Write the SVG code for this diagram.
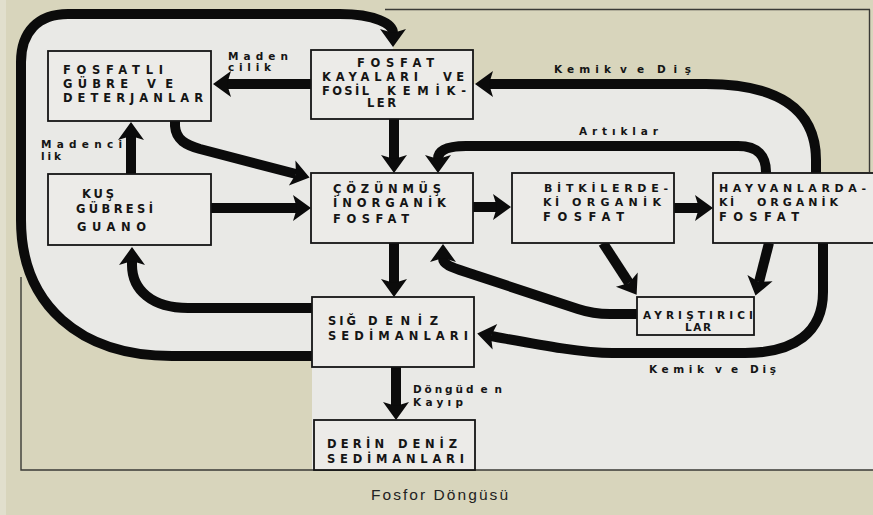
<svg xmlns="http://www.w3.org/2000/svg" width="873" height="515" viewBox="0 0 873 515">
  <style>
    .box { fill: #ecebe8; stroke: #151515; stroke-width: 1.8; }
    .flow { fill: none; stroke: #0b0b0b; stroke-width: 10; stroke-linejoin: round; }
    .rule { fill: none; stroke: #3a3a36; stroke-width: 1.4; }
    .cap { font-family: "DejaVu Sans", "Liberation Sans", sans-serif; font-weight: bold; font-size: 11.5px; fill: #151515; }
    .sm { font-size: 10.5px; }
    .tight { font-size: 11px; }
    .lbl { font-family: "DejaVu Sans", "Liberation Sans", sans-serif; font-weight: bold; font-size: 10.5px; fill: #151515; }
    .title { font-family: "Liberation Sans", Arial, sans-serif; font-size: 15.5px; fill: #222; }
  </style>
  <defs>
    <marker id="head" viewBox="-5 -14 20 28" refX="0" refY="0" markerWidth="20" markerHeight="28" markerUnits="userSpaceOnUse" orient="auto">
      <path d="M14,0 L-4,-13 L0,0 L-4,13 Z" fill="#0b0b0b"/>
    </marker>
  </defs>

  <!-- page background -->
  <rect x="0" y="0" width="873" height="515" fill="#d8d5bc"/>
  <rect x="0" y="0" width="6" height="515" fill="#e1dfcd"/>
  <!-- printed sheet area -->
  <path d="M 312,356 L 172,356 C 80,356 21,305 21,220 L 21,62 C 21,32 38,14 68,14 L 352,14 C 380,14 393,22 393,40 L 393,50 L 473,50 L 473,84 L 706,84 C 776,84 816,108 816,160 L 816,173 L 873,173 L 873,470 L 312,470 Z" fill="#e9e9e6"/>
  <!-- frame rules -->
  <path class="rule" d="M 385,9.5 L 870,9.5 M 869.5,9.5 L 869.5,172"/>
  <path class="rule" d="M 21,277 L 21,470 L 873,470"/>

  <!-- connectors -->
  <g id="connectors">
    <path class="flow" marker-end="url(#head)" d="M 312,356 L 172,356 C 80,356 21,305 21,220 L 21,62 C 21,32 38,14 68,14 L 340,14 C 375,14 393,24 393,33"/>
    <path class="flow" marker-end="url(#head)" d="M 312,308 L 188,308 C 152,308 132,290 132,265 L 132,261"/>
    <path class="flow" marker-end="url(#head)" d="M 311,84 L 227,84"/>
    <path class="flow" marker-end="url(#head)" d="M 131,174 L 131,136"/>
    <path class="flow" marker-end="url(#head)" d="M 175,121 L 175,126 C 176,140 186,145 200,149 L 296,174"/>
    <path class="flow" marker-end="url(#head)" d="M 211,208 L 297,208"/>
    <path class="flow" marker-end="url(#head)" d="M 394,119 L 394,159"/>
    <path class="flow" marker-end="url(#head)" d="M 816,173 L 816,160 C 816,108 776,84 706,84 L 489,84"/>
    <path class="flow" marker-end="url(#head)" d="M 766,173 L 766,172 C 766,156 758,146 738,146 L 466,146 C 448,146 438,150 438,159"/>
    <path class="flow" marker-end="url(#head)" d="M 473,207 L 497,207"/>
    <path class="flow" marker-end="url(#head)" d="M 674,208 L 699,208"/>
    <path class="flow" marker-end="url(#head)" d="M 394,243 L 394,283"/>
    <path class="flow" marker-end="url(#head)" d="M 637,314 L 610,314 C 598,314 590,313 578,309 L 478,276 C 455,268 443,266 443,258"/>
    <path class="flow" marker-end="url(#head)" d="M 823,243 L 823,292 C 823,332 795,353 745,353 L 612,353 C 580,353 530,343 491,336"/>
    <path class="flow" marker-end="url(#head)" d="M 603,243 L 629,283"/>
    <path class="flow" marker-end="url(#head)" d="M 769,243 L 759,282"/>
    <path class="flow" marker-end="url(#head)" d="M 396,367 L 396,406"/>

    <!-- connector labels -->
    <text class="lbl" x="228" y="60" textLength="60" lengthAdjust="spacing">Maden</text>
    <text class="lbl" x="228" y="71" textLength="43" lengthAdjust="spacing">cilik</text>
    <text class="lbl" x="41" y="148" textLength="81" lengthAdjust="spacing">Madenci</text>
    <text class="lbl" x="41" y="160" textLength="20" lengthAdjust="spacing">lik</text>
    <text class="lbl" x="554" y="73" textLength="57" lengthAdjust="spacing">Kemik</text>
    <text class="lbl" x="620" y="73" textLength="24" lengthAdjust="spacing">ve</text>
    <text class="lbl" x="657" y="73" textLength="34" lengthAdjust="spacing">Diş</text>
    <text class="lbl" x="579" y="135" textLength="79" lengthAdjust="spacing">Artıklar</text>
    <text class="lbl" x="649" y="373" textLength="55" lengthAdjust="spacing">Kemik</text>
    <text class="lbl" x="715" y="373" textLength="23" lengthAdjust="spacing">ve</text>
    <text class="lbl" x="750" y="373" textLength="26" lengthAdjust="spacing">Diş</text>
    <text class="lbl" x="413" y="393" textLength="50" lengthAdjust="spacing">Döngü</text>
    <text class="lbl" x="466" y="393" textLength="36" lengthAdjust="spacing">den</text>
    <text class="lbl" x="413" y="406" textLength="50" lengthAdjust="spacing">Kayıp</text>
  </g>

  <!-- nodes -->
  <g id="fosfatli-gubre">
    <rect class="box" x="48" y="51" width="163" height="70"/>
    <text class="cap" x="63" y="74" textLength="100" lengthAdjust="spacing">FOSFATLI</text>
    <text class="cap" x="63" y="88" textLength="65" lengthAdjust="spacing">GÜBRE</text>
    <text class="cap" x="147" y="88" textLength="26" lengthAdjust="spacing">VE</text>
    <text class="cap" x="63" y="102" textLength="140" lengthAdjust="spacing">DETERJANLAR</text>
  </g>

  <g id="kus-gubresi">
    <rect class="box" x="48" y="174" width="163" height="71"/>
    <text class="cap" x="82" y="198" textLength="32" lengthAdjust="spacing">KUŞ</text>
    <text class="cap" x="76" y="213" textLength="77" lengthAdjust="spacing">GÜBRESİ</text>
    <text class="cap" x="77" y="231" textLength="69" lengthAdjust="spacing">GUANO</text>
  </g>

  <g id="fosfat-kayalari">
    <rect class="box" x="311" y="50" width="162" height="69"/>
    <text class="cap" x="357" y="67" textLength="77" lengthAdjust="spacing">FOSFAT</text>
    <text class="cap" x="322" y="81" textLength="96" lengthAdjust="spacing">KAYALARI</text>
    <text class="cap" x="443" y="81" textLength="21" lengthAdjust="spacing">VE</text>
    <text class="cap" x="322" y="95" textLength="47" lengthAdjust="spacing">FOSİL</text>
    <text class="cap" x="387" y="95" textLength="79" lengthAdjust="spacing">KEMİK-</text>
    <text class="cap" x="367" y="107" textLength="29" lengthAdjust="spacing">LER</text>
  </g>

  <g id="cozunmus-inorganik">
    <rect class="box" x="311" y="173" width="162" height="70"/>
    <text class="cap" x="333" y="193" textLength="108" lengthAdjust="spacing">ÇÖZÜNMÜŞ</text>
    <text class="cap" x="333" y="207" textLength="113" lengthAdjust="spacing">İNORGANİK</text>
    <text class="cap" x="333" y="223" textLength="76" lengthAdjust="spacing">FOSFAT</text>
  </g>

  <g id="bitkilerdeki-organik">
    <rect class="box" x="512" y="173" width="162" height="70"/>
    <text class="cap tight" x="544" y="192" textLength="124" lengthAdjust="spacing">BİTKİLERDE-</text>
    <text class="cap tight" x="543" y="206" textLength="16" lengthAdjust="spacing">Kİ</text>
    <text class="cap tight" x="572" y="206" textLength="89" lengthAdjust="spacing">ORGANİK</text>
    <text class="cap" x="543" y="221" textLength="81" lengthAdjust="spacing">FOSFAT</text>
  </g>

  <g id="hayvanlardaki-organik">
    <rect class="box" x="713" y="173" width="170" height="70"/>
    <text class="cap tight" x="719" y="192" textLength="147" lengthAdjust="spacing">HAYVANLARDA-</text>
    <text class="cap tight" x="719" y="206" textLength="15" lengthAdjust="spacing">Kİ</text>
    <text class="cap tight" x="757" y="206" textLength="81" lengthAdjust="spacing">ORGANİK</text>
    <text class="cap" x="719" y="221" textLength="80" lengthAdjust="spacing">FOSFAT</text>
  </g>

  <g id="ayristiricilar">
    <rect class="box" x="637" y="297" width="117" height="38"/>
    <text class="cap sm" x="643" y="319" textLength="110" lengthAdjust="spacing">AYRIŞTIRICI</text>
    <text class="cap sm" x="685" y="331" textLength="26" lengthAdjust="spacing">LAR</text>
  </g>

  <g id="sig-deniz">
    <rect class="box" x="312" y="297" width="162" height="70"/>
    <text class="cap" x="328" y="325" textLength="28" lengthAdjust="spacing">SIĞ</text>
    <text class="cap" x="368" y="325" textLength="70" lengthAdjust="spacing">DENİZ</text>
    <text class="cap" x="328" y="340" textLength="140" lengthAdjust="spacing">SEDİMANLARI</text>
  </g>

  <g id="derin-deniz">
    <rect class="box" x="314" y="420" width="161" height="50"/>
    <text class="cap" x="327" y="448" textLength="57" lengthAdjust="spacing">DERİN</text>
    <text class="cap" x="398" y="448" textLength="59" lengthAdjust="spacing">DENİZ</text>
    <text class="cap" x="327" y="463" textLength="137" lengthAdjust="spacing">SEDİMANLARI</text>
  </g>

  <text class="title" x="371" y="500" textLength="137" lengthAdjust="spacing">Fosfor Döngüsü</text>
</svg>
